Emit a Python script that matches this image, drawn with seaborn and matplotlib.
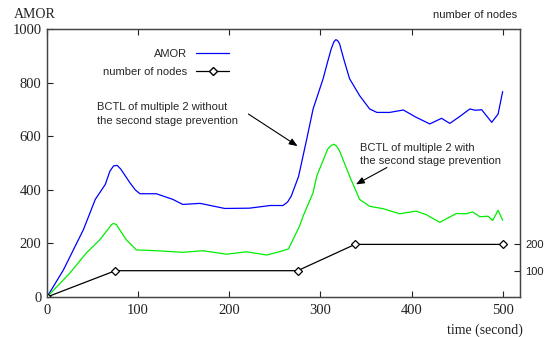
import matplotlib
matplotlib.use("Agg")
import matplotlib.pyplot as plt
import seaborn as sns
from matplotlib.lines import Line2D

# AMOR, BCTL of multiple 2 without the second stage prevention (blue)
t_blue = [0, 18, 40, 53, 64, 69, 73, 77, 81, 91, 97, 102, 120, 138, 149, 168, 195, 222, 245,
          259, 264, 268, 276, 285, 292, 303, 308, 312, 315, 317, 319, 321, 326, 332, 343,
          354, 362, 376, 391, 405, 420, 433, 442, 453, 464, 470, 477, 488, 495, 500]
amor_blue = [0, 101, 252, 365, 421, 470, 490, 492, 478, 427, 400, 386, 386, 365, 346, 350, 331, 332, 342,
             342, 355, 377, 450, 590, 703, 816, 880, 929, 955, 962, 958, 947, 885, 816, 753,
             703, 690, 690, 699, 672, 647, 668, 649, 675, 703, 698, 700, 653, 684, 768]

# AMOR, BCTL of multiple 2 with the second stage prevention (green)
t_green = [0, 25, 43, 58, 71, 73, 76, 81, 87, 98, 120, 149, 171, 197, 219, 241, 256, 265,
           277, 281, 292, 296, 308, 312, 315, 318, 321, 332, 343, 354, 369, 387, 405, 416,
           431, 449, 460, 467, 475, 484, 489, 495, 500]
amor_green = [0, 89, 164, 214, 271, 275, 271, 245, 214, 176, 173, 167, 173, 160, 169, 157, 170, 180,
              264, 302, 390, 452, 553, 567, 571, 563, 546, 452, 365, 339, 330, 311, 321, 308,
              279, 312, 311, 318, 300, 302, 286, 324, 287]

# number of nodes
t_nodes = [0, 75, 275, 338, 500]
nodes = [0, 100, 100, 200, 200]

sns.set_style("ticks")
serif = ["Liberation Serif", "DejaVu Serif"]
sans = ["Liberation Sans", "DejaVu Sans"]
plt.rcParams["font.family"] = sans

fig = plt.figure(figsize=(5.47, 3.37), dpi=100)
ax = fig.add_axes([0.0859, 0.1187, 0.8647, 0.7938])
ax2 = ax.twinx()

sns.lineplot(x=t_blue, y=amor_blue, ax=ax, color="#0000ff", lw=0.9)
sns.lineplot(x=t_green, y=amor_green, ax=ax, color="#00ee00", lw=0.9)
sns.lineplot(x=t_nodes, y=nodes, ax=ax2, color="black", lw=0.9,
             marker="D", markersize=4.5, markerfacecolor="white",
             markeredgecolor="black", markeredgewidth=0.9)

ax.set_xlim(0, 519)
ax.set_ylim(0, 1000)
ax2.set_ylim(0, 1017)
ax.set_xticks([0, 100, 200, 300, 400, 500])
ax.set_yticks([0, 200, 400, 600, 800, 1000])
ax2.set_yticks([100, 200])

ax.tick_params(direction="in", length=4.5, width=0.8, top=True, right=False,
               labelsize=10.5, colors="#222222", pad=5)
ax.tick_params(axis="y", pad=4)
ax2.tick_params(direction="in", length=4.5, width=0.8, labelsize=8, pad=4,
                colors="#222222")
for lab in ax.get_xticklabels() + ax.get_yticklabels():
    lab.set_family(serif)

for a in (ax, ax2):
    for s in a.spines.values():
        s.set_visible(True)
        s.set_linewidth(0.9)
        s.set_color("#444444")

# legend, gnuplot style: text first, sample after
handles = [Line2D([], [], color="#0000ff", lw=0.9),
           Line2D([], [], color="black", lw=0.9, marker="D", markersize=4.5,
                  markerfacecolor="white", markeredgecolor="black")]
ax.legend(handles, ["AMOR", "number of nodes"], loc="upper right",
          bbox_to_anchor=(0.395, 0.945), markerfirst=False, frameon=False,
          fontsize=8, handlelength=3.0, labelspacing=0.75, borderaxespad=0)

ax.text(55, 684, "BCTL of multiple 2 without\nthe second stage prevention",
        fontsize=8, ha="left", va="center", linespacing=1.45)
ax.annotate("", xy=(275, 564), xytext=(221, 684),
            arrowprops=dict(arrowstyle="-|>,head_length=0.5,head_width=0.2",
                            color="black", lw=0.8, shrinkA=0, shrinkB=0))
ax.text(343, 532, "BCTL of multiple 2 with\nthe second stage prevention",
        fontsize=8, ha="left", va="center", linespacing=1.45)
ax.annotate("", xy=(339, 421), xytext=(373, 484),
            arrowprops=dict(arrowstyle="-|>,head_length=0.5,head_width=0.2",
                            color="black", lw=0.8, shrinkA=0, shrinkB=0))

fig.text(14 / 547, 1 - 14 / 337, "AMOR", family=serif, fontsize=10,
         ha="left", va="center", color="#222222")
fig.text(517 / 547, 1 - 15 / 337, "number of nodes", fontsize=8,
         ha="right", va="center", color="#222222")
fig.text(523 / 547, 1 - 330 / 337, "time (second)", family=serif, fontsize=10,
         ha="right", va="center", color="#222222")

fig.savefig("out.png", dpi=100)
